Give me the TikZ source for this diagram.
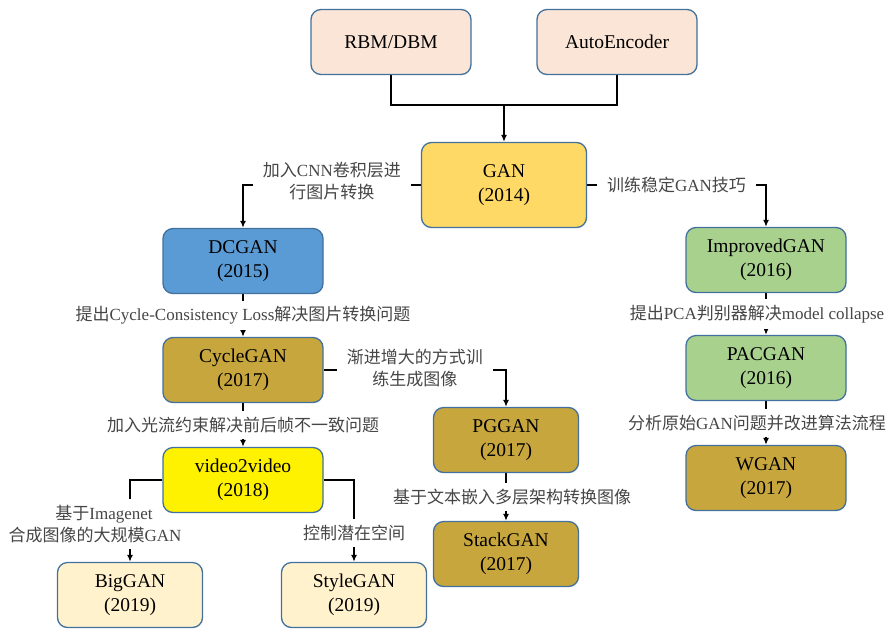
\documentclass[tikz,border=0pt]{standalone}
\usepackage{fontspec}
\setmainfont{Liberation Serif}
\newfontfamily\cjk{Noto Sans CJK SC}
\newcommand{\zh}[1]{{\cjk #1}}
\usetikzlibrary{arrows.meta}

\definecolor{boxline}{RGB}{65,113,156}
\definecolor{peach}{RGB}{251,229,214}
\definecolor{gold}{RGB}{255,217,102}
\definecolor{dcblue}{RGB}{91,155,213}
\definecolor{lgreen}{RGB}{169,209,142}
\definecolor{ochre}{RGB}{199,166,62}
\definecolor{cream}{RGB}{255,242,204}
\definecolor{lblgray}{RGB}{70,70,70}

\pgfdeclarelayer{behind}
\pgfsetlayers{behind,main}

\tikzset{
  model/.style={draw=boxline, line width=1.3pt, rounded corners=10pt, align=center,
    minimum width=160pt, minimum height=65pt, font=\fontsize{19.5}{24}\selectfont},
  plain/.style={line width=1.6pt},
  link/.style={line width=1.6pt, -{Latex[length=7pt,width=6pt]}},
  note/.style={fill=white, align=center, text=lblgray, font=\fontsize{17}{22}\selectfont,
    inner xsep=10pt, inner ysep=6pt},
}

\begin{document}
\begin{tikzpicture}[x=1pt,y=-1pt]
  \useasboundingbox (0,0) rectangle (889,630);

  % Sources
  \node[model, fill=peach] (rbm) at (391,42) {RBM/DBM};
  \node[model, fill=peach] (ae) at (617,42) {AutoEncoder};

  % Models
  \node[model, fill=gold, minimum width=165pt, minimum height=85pt] (gan) at (504,185) {GAN\\(2014)};
  \node[model, fill=dcblue] (dcgan) at (243,261) {DCGAN\\(2015)};
  \node[model, fill=lgreen] (improved) at (766,260) {ImprovedGAN\\(2016)};
  \node[model, fill=ochre] (cycle) at (243,370) {CycleGAN\\(2017)};
  \node[model, fill=lgreen] (pac) at (766,368) {PACGAN\\(2016)};
  \node[model, fill=yellow] (v2v) at (243,480) {video2video\\(2018)};
  \node[model, fill=ochre, minimum width=145pt] (pg) at (506,440) {PGGAN\\(2017)};
  \node[model, fill=ochre] (wgan) at (766,478) {WGAN\\(2017)};
  \node[model, fill=ochre, minimum width=145pt] (stack) at (506,554) {StackGAN\\(2017)};
  \node[model, fill=cream, minimum width=145pt] (big) at (130,595) {BigGAN\\(2019)};
  \node[model, fill=cream, minimum width=145pt] (style) at (354,595) {StyleGAN\\(2019)};

  \begin{pgfonlayer}{behind}
  % Top merge
  \coordinate (join) at (504,105);
  \draw[plain] (rbm.south) |- (join) -| (ae.south);
  \draw[link] (join) -- (gan.north);

  % Branches from GAN
  \draw[link] (gan.west) -- node[note, yshift=4pt] {\zh{加入}CNN\zh{卷积层进}\\\zh{行图片转换}} (gan.west -| dcgan.north) -- (dcgan.north);
  \draw[link] (gan.east) -- node[note] {\zh{训练稳定}GAN\zh{技巧}} (gan.east -| improved.north) -- (improved.north);

  % Left column
  \draw[link] (dcgan) -- node[note] {\zh{提出}Cycle-Consistency Loss\zh{解决图片转换问题}} (cycle);
  \draw[link] (cycle) -- node[note] {\zh{加入光流约束解决前后帧不一致问题}} (v2v);
  \draw[link] (cycle.east) -- node[note, yshift=2pt] {\zh{渐进增大的方式训}\\\zh{练生成图像}} (cycle.east -| pg.north) -- (pg.north);
  \draw[link] (pg) -- node[note, xshift=6pt] {\zh{基于文本嵌入多层架构转换图像}} (stack);
  \draw[link] (v2v.west) -- (v2v.west -| big.north) -- node[note, xshift=-35pt, yshift=-3pt] {\hspace*{18pt}\zh{基于}Imagenet\\\zh{合成图像的大规模}GAN} (big.north);
  \draw[link] (v2v.east) -- (v2v.east -| style.north) -- node[note, pos=0.65] {\zh{控制潜在空间}} (style.north);

  % Right column
  \draw[link] (improved) -- node[note, xshift=-9pt] {\zh{提出}PCA\zh{判别器解决}model collapse} (pac);
  \draw[link] (pac) -- node[note, xshift=-9pt] {\zh{分析原始}GAN\zh{问题并改进算法流程}} (wgan);
  \end{pgfonlayer}
\end{tikzpicture}
\end{document}
